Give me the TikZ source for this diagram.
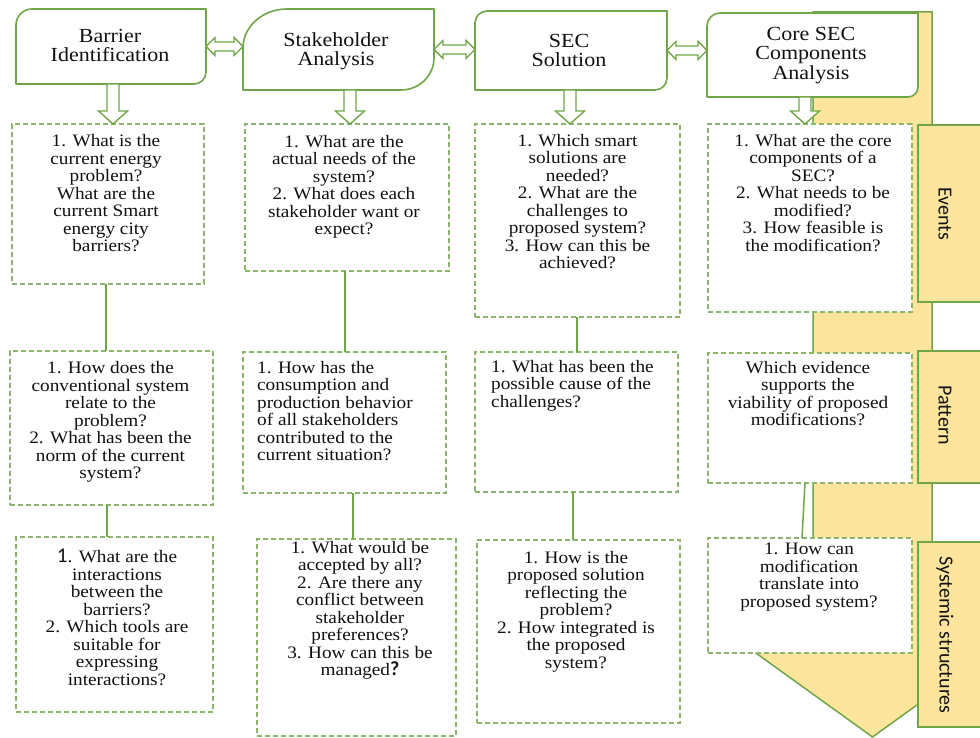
\documentclass[tikz,border=0pt]{standalone}
\usepackage{fontspec}
\setmainfont{Liberation Serif}[FakeStretch=1.1]
\newfontfamily\lblfont{Carlito}
\usetikzlibrary{calc}
\definecolor{grn}{HTML}{70A548}
\definecolor{dgrn}{HTML}{8AB56A}
\definecolor{ylw}{HTML}{FDE59D}
\definecolor{txt}{HTML}{111111}
\tikzset{
 hdrbox/.style={inner sep=0pt, outer sep=0pt, draw=none},
 hdrline/.style={draw=grn, line width=1.6pt, fill=white, line join=round},
 hdrtxt/.style={align=center, inner sep=0pt, font=\fontsize{20}{19.5}\selectfont, text=txt},
 qbox/.style={draw=dgrn, line width=1.3pt, dash pattern=on 5pt off 3pt, fill=white, inner sep=0pt, outer sep=0pt},
 qtxt/.style={align=center, inner sep=0pt, font=\fontsize{17.5}{17.5}\selectfont, text=txt},
 qtxtl/.style={align=left, inner sep=0pt, font=\fontsize{17.5}{17.5}\selectfont, text=txt},
 conn/.style={draw=grn, line width=1.5pt},
 blk/.style={draw=grn, line width=1.4pt, fill=white, line join=miter},
 band/.style={fill=ylw, draw=grn, line width=1.5pt, line join=miter},
 lblbox/.style={fill=ylw, draw=grn, line width=1.5pt, inner sep=0pt, outer sep=0pt},
 lbltxt/.style={rotate=-90, font=\lblfont\fontsize{20}{20}\selectfont, text=txt, inner sep=0pt},
}
\newcommand\dblarr[2]{\draw[blk] (#1) -- ++(9,9) -- ++(0,-4.5) -- ($(#2)+(-9,4.5)$) -- ++(0,4.5) -- (#2) -- ++(-9,-9) -- ++(0,4.5) -- ($(#1)+(9,-4.5)$) -- ++(0,-4.5) -- cycle;}
\newcommand\dnarr[2]{\draw[blk] ($(#1)+(-6,0)$) -- ($(#2)+(-6,13)$) -- ++(-8.5,0) -- (#2) -- ++(14.5,13) -- ++(-8.5,0) -- ($(#1)+(6,0)$) -- cycle;}
\begin{document}
\begin{tikzpicture}[x=1pt,y=1pt]
\useasboundingbox (0,0) rectangle (980,738);
\clip (0,0) rectangle (980,738);
\fill[white] (0,0) rectangle (980,738);
% big yellow arrow
\path[band] (813,726) -- (932,726) -- (932,109) -- (1022.5,109) -- (872.5,1) -- (722.5,109) -- (813,109) -- cycle;
% side labels
\node[lblbox, minimum width=80pt, minimum height=177pt] (ev) at (958,524.5) {};
\node[lblbox, minimum width=80pt, minimum height=132pt] (pa) at (958,321) {};
\node[lblbox, minimum width=80pt, minimum height=185pt] (sy) at (958,103.5) {};
\node[lbltxt] (evt) at (945,524.5) {Events};
\node[lbltxt] (pat) at (945,323) {Pattern};
\node[lbltxt] (syt) at (945,103) {Systemic structures};
% headers
\node[hdrbox, minimum width=190pt, minimum height=75pt] (h1) at (111,691.5) {};
\node[hdrbox, minimum width=191pt, minimum height=81pt] (h2) at (338.5,688.5) {};
\node[hdrbox, minimum width=192pt, minimum height=79pt] (h3) at (571,687.5) {};
\node[hdrbox, minimum width=211pt, minimum height=84pt] (h4) at (812.5,683) {};
\draw[hdrline] (h1.south west) -- ($(h1.north west)+(0,-16)$) arc[start angle=180,end angle=90,radius=16pt] -- (h1.north east) -- ($(h1.south east)+(0,12)$) arc[start angle=0,end angle=-90,radius=12pt] -- cycle;
\draw[hdrline] (h2.south west) -- ($(h2.north west)+(0,-39)$) arc[start angle=180,end angle=90,x radius=44pt,y radius=39pt] -- (h2.north east) -- ($(h2.south east)+(0,32)$) arc[start angle=0,end angle=-90,x radius=33pt,y radius=32pt] -- cycle;
\draw[hdrline] (h3.south west) -- ($(h3.north west)+(0,-12)$) arc[start angle=180,end angle=90,radius=12pt] -- (h3.north east) -- ($(h3.south east)+(0,12)$) arc[start angle=0,end angle=-90,radius=12pt] -- cycle;
\draw[hdrline] (h4.south west) -- ($(h4.north west)+(0,-13)$) arc[start angle=180,end angle=90,radius=13pt] -- (h4.north east) -- ($(h4.south east)+(0,10)$) arc[start angle=0,end angle=-90,radius=10pt] -- cycle;
\node[hdrtxt, anchor=north] (h1t) at (110,709.3) {Barrier\\Identification};
\node[hdrtxt, anchor=north] (h2t) at (336,706) {Stakeholder\\Analysis};
\node[hdrtxt, anchor=north] (h3t) at (569,704) {SEC\\Solution};
\node[hdrtxt, anchor=north] (h4t) at (811,711) {Core SEC\\Components\\Analysis};
% question boxes
\node[qbox, minimum width=192pt, minimum height=160pt] (b11) at (108,534) {};
\node[qbox, minimum width=204pt, minimum height=147pt] (b12) at (347,540.5) {};
\node[qbox, minimum width=205pt, minimum height=193pt] (b13) at (577.5,517.5) {};
\node[qbox, minimum width=204pt, minimum height=188pt] (b14) at (810,520) {};
\node[qbox, minimum width=203pt, minimum height=154pt] (b21) at (111.5,310) {};
\node[qbox, minimum width=203pt, minimum height=141pt] (b22) at (344.5,315.5) {};
\node[qbox, minimum width=203pt, minimum height=140pt] (b23) at (576.5,316) {};
\node[qbox, minimum width=204pt, minimum height=130pt] (b24) at (810,320) {};
\node[qbox, minimum width=197pt, minimum height=175pt] (b31) at (114.5,113.5) {};
\node[qbox, minimum width=199pt, minimum height=197pt] (b32) at (356.5,100.5) {};
\node[qbox, minimum width=203pt, minimum height=183pt] (b33) at (578.5,106.5) {};
\node[qbox, minimum width=204pt, minimum height=115pt] (b34) at (810,142.5) {};
% connectors
\draw[conn] (106,0 |- b11.south) -- (106,0 |- b21.north);
\draw[conn] (107,0 |- b21.south) -- (107,0 |- b31.north);
\draw[conn] (345,0 |- b12.south) -- (345,0 |- b22.north);
\draw[conn] (353,0 |- b22.south) -- (353,0 |- b32.north);
\draw[conn] (577,0 |- b13.south) -- (577,0 |- b23.north);
\draw[conn] (573,0 |- b23.south) -- (573,0 |- b33.north);
\draw[conn] (805,0 |- b24.south) -- (802,0 |- b34.north);
% header arrows
\dblarr{h1.east}{h2.west |- h1.east}
\dblarr{h2.east}{h3.west |- h2.east}
\dblarr{h3.east}{h4.west |- h3.east}
\dnarr{113,0 |- h1.south}{113,0 |- b11.north}
\dnarr{350,0 |- h2.south}{350,0 |- b12.north}
\dnarr{570,0 |- h3.south}{570,0 |- b13.north}
\dnarr{805,0 |- h4.south}{805,0 |- b14.north}
% texts
\node[qtxt, anchor=north] (t11) at (106,603.5) {1. What is the\\current energy\\problem?\\What are the\\current Smart\\energy city\\barriers?};
\node[qtxt, anchor=north] (t12) at (344,603.3) {1. What are the\\actual needs of the\\system?\\2. What does each\\stakeholder want or\\expect?};
\node[qtxt, anchor=north] (t13) at (577.5,604) {1. Which smart\\solutions are\\needed?\\2. What are the\\challenges to\\proposed system?\\3. How can this be\\achieved?};
\node[qtxt, anchor=north] (t14) at (813,604) {1. What are the core\\components of a\\SEC?\\2. What needs to be\\modified?\\3. How feasible is\\the modification?};
\node[qtxt, anchor=north] (t21) at (110.5,376.7) {1. How does the\\conventional system\\relate to the\\problem?\\2. What has been the\\norm of the current\\system?};
\node[qtxtl, anchor=north west] (t22) at (257,377) {1. How has the\\consumption and\\production behavior\\of all stakeholders\\contributed to the\\current situation?};
\node[qtxtl, anchor=north west] (t23) at (491,378.3) {1. What has been the\\possible cause of the\\challenges?};
\node[qtxt, anchor=north] (t24) at (808,377) {Which evidence\\supports the\\viability of proposed\\modifications?};
\node[qtxt, anchor=north] (t31) at (117,189) {{\lblfont\fontsize{21}{17.5}\selectfont 1}. What are the\\interactions\\between the\\barriers?\\2. Which tools are\\suitable for\\expressing\\interactions?};
\node[qtxt, anchor=north] (t32) at (360,197) {1. What would be\\accepted by all?\\2. Are there any\\conflict between\\stakeholder\\preferences?\\3. How can this be\\managed{\lblfont\bfseries\fontsize{20}{17.5}\selectfont ?}};
\node[qtxt, anchor=north] (t33) at (576,187.3) {1. How is the\\proposed solution\\reflecting the\\problem?\\2. How integrated is\\the proposed\\system?};
\node[qtxt, anchor=north] (t34) at (809,195) {1. How can\\modification\\translate into\\proposed system?};
\end{tikzpicture}
\end{document}
